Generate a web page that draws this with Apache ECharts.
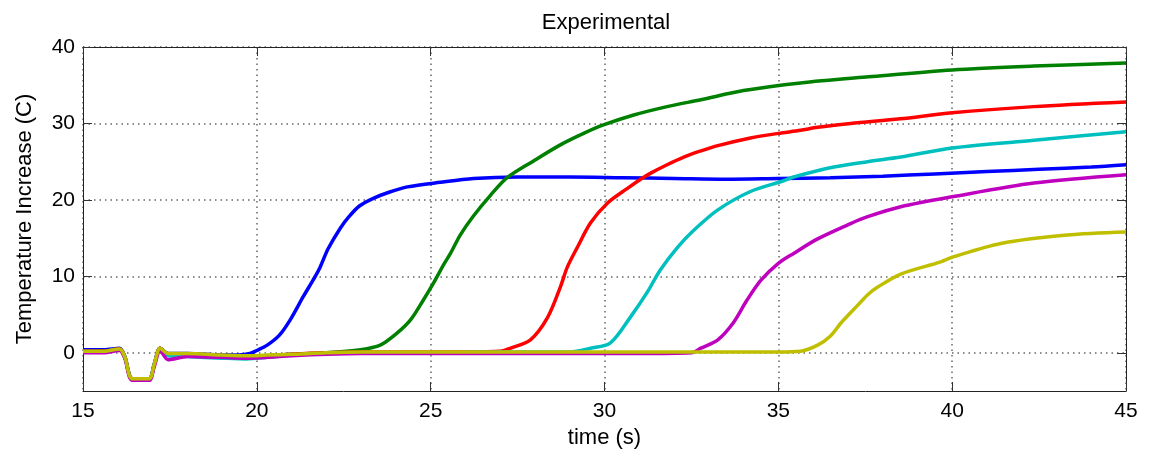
<!DOCTYPE html>
<html>
<head>
<meta charset="utf-8">
<script src="https://cdn.jsdelivr.net/npm/echarts@6/dist/echarts.min.js"></script>
<style>html,body{margin:0;padding:0;background:#fff}#c{width:1154px;height:456px}</style>
</head>
<body>
<div id="c"></div>
<script>
const xTicks = [15, 20, 25, 30, 35, 40, 45];
const yTicks = [0, 10, 20, 30, 40];

const blueT = [15, 15.6, 16.05, 16.2, 16.42, 16.9, 17.05, 17.22, 17.45, 18, 19, 19.5, 19.8, 20.0, 20.3, 20.65, 20.96, 21.33, 21.68, 21.82, 22.05, 22.4, 22.65, 22.95, 23.35, 23.8, 24.33, 25.28, 26.23, 27.5, 29, 30.5, 32, 33.5, 35, 36.5, 38, 39.5, 41, 42.5, 44, 45];
const blueV = [0.4, 0.4, 0.6, -0.5, -3.4, -3.4, -1.5, 0.6, -0.1, -0.1, -0.3, -0.3, -0.1, 0.3, 1.0, 2.3, 4.3, 7.3, 10.0, 11.2, 13.6, 16.3, 17.8, 19.2, 20.2, 21.0, 21.7, 22.3, 22.8, 23.0, 23.0, 22.9, 22.8, 22.7, 22.8, 22.9, 23.1, 23.4, 23.7, 24.0, 24.3, 24.6];

const greenT = [15, 15.6, 16.05, 16.2, 16.42, 16.9, 17.05, 17.22, 17.45, 18, 19, 19.7, 20.3, 21, 22, 22.98, 23.55, 24.04, 24.42, 24.79, 25.08, 25.37, 25.57, 25.85, 26.23, 26.72, 27.2, 27.96, 28.73, 29.4, 29.97, 30.84, 31.8, 32.77, 34, 35.64, 37.6, 40, 42.35, 45];
const greenV = [0.2, 0.2, 0.5, -0.5, -3.4, -3.4, -1.5, 0.6, -0.2, -0.2, -0.4, -0.5, -0.4, -0.2, 0.0, 0.4, 1.0, 2.6, 4.3, 6.9, 9.1, 11.5, 13.0, 15.4, 17.9, 20.6, 22.9, 25.1, 27.2, 28.7, 29.8, 31.1, 32.2, 33.1, 34.3, 35.3, 36.1, 37.0, 37.5, 37.9];

const redT = [15, 15.6, 16.05, 16.2, 16.42, 16.9, 17.05, 17.22, 17.45, 18, 19, 19.7, 20.3, 21, 22, 23, 24, 25, 26, 27, 27.3, 27.87, 28.36, 28.73, 28.93, 29.22, 29.6, 30.09, 30.66, 31.04, 31.33, 31.8, 32.28, 32.77, 33.26, 34.2, 35.0, 35.64, 36.13, 37.08, 38.5, 40, 42.35, 45];
const redV = [0.2, 0.2, 0.5, -0.5, -3.4, -3.4, -1.5, 0.6, -0.2, -0.2, -0.4, -0.5, -0.4, -0.2, 0.0, 0.1, 0.1, 0.1, 0.1, 0.2, 0.6, 1.7, 4.6, 8.6, 11.2, 13.8, 17.0, 19.6, 21.5, 22.7, 23.5, 24.6, 25.6, 26.4, 27.1, 28.1, 28.7, 29.1, 29.5, 30.0, 30.6, 31.4, 32.2, 32.8];

const cyanT = [15, 15.6, 16.05, 16.2, 16.42, 16.9, 17.05, 17.22, 17.45, 18, 19, 19.7, 20.3, 21, 22, 23, 25, 27, 29, 29.6, 30.17, 30.75, 31.24, 31.6, 32.1, 32.56, 33.26, 34.2, 35.15, 35.44, 36.6, 37.57, 38.52, 40, 42.35, 45];
const cyanV = [0.1, 0.1, 0.4, -0.5, -3.4, -3.4, -1.5, 0.5, -0.4, -0.5, -0.7, -0.8, -0.6, -0.3, -0.1, 0.0, 0.0, 0.1, 0.1, 0.6, 1.3, 4.7, 8.0, 10.8, 13.8, 16.0, 18.7, 21.1, 22.5, 23.0, 24.3, 25.0, 25.6, 26.8, 27.8, 28.9];

const magentaT = [15, 15.6, 16.05, 16.2, 16.42, 16.9, 17.05, 17.22, 17.45, 18, 19, 19.7, 20.3, 21, 22, 23, 25, 27, 29, 31, 32.5, 32.77, 33.26, 33.7, 34.1, 34.5, 35.0, 35.44, 36.13, 37.08, 37.57, 38.52, 40, 42.35, 45];
const magentaV = [0.0, 0.0, 0.3, -0.7, -3.6, -3.6, -1.8, 0.3, -0.9, -0.5, -0.6, -0.7, -0.6, -0.4, -0.2, -0.1, -0.1, -0.1, -0.1, -0.1, 0.0, 0.6, 1.7, 3.9, 6.9, 9.5, 11.7, 13.0, 14.9, 16.9, 17.8, 19.1, 20.4, 22.2, 23.3];

const yellowT = [15, 15.6, 16.05, 16.2, 16.42, 16.9, 17.05, 17.22, 17.45, 18, 19, 19.7, 20.3, 21, 22, 23, 25, 27, 29, 31, 33, 35, 35.64, 36.13, 36.5, 36.8, 37.3, 37.57, 37.86, 38.52, 39.67, 40, 41.4, 43.3, 45];
const yellowV = [0.2, 0.2, 0.5, -0.5, -3.4, -3.4, -1.5, 0.6, -0.1, -0.1, -0.3, -0.4, -0.3, -0.2, 0.0, 0.1, 0.1, 0.1, 0.1, 0.1, 0.1, 0.1, 0.2, 1.0, 2.2, 3.9, 6.3, 7.6, 8.6, 10.3, 11.9, 12.5, 14.3, 15.4, 15.8];

const seriesDefs = [
  {name: 'blue', t: blueT, v: blueV, color: '#0000ff'},
  {name: 'green', t: greenT, v: greenV, color: '#008000'},
  {name: 'red', t: redT, v: redV, color: '#ff0000'},
  {name: 'cyan', t: cyanT, v: cyanV, color: '#00bfbf'},
  {name: 'magenta', t: magentaT, v: magentaV, color: '#bf00bf'},
  {name: 'yellow', t: yellowT, v: yellowV, color: '#bfbf00'}
];

const FONT = 'Liberation Sans';
const chart = echarts.init(document.getElementById('c'), null, {renderer: 'canvas'});

const tickStyle = {show: true, inside: true, length: 9, lineStyle: {color: '#333', width: 1}};
const axisLineStyle = {show: true, onZero: false, lineStyle: {color: '#222', width: 1}};
const dotted = {show: true, lineStyle: {color: '#666', width: 1.5, type: [1.5, 4]}};

chart.setOption({
  animation: false,
  backgroundColor: '#fff',
  title: {
    text: 'Experimental',
    left: 601,
    textAlign: 'center',
    top: 7,
    textStyle: {fontFamily: FONT, fontSize: 22, fontWeight: 'normal', color: '#000'}
  },
  grid: {left: 83, right: 28, top: 47, bottom: 65, containLabel: false},
  xAxis: [{
    type: 'value', min: 15, max: 45, interval: 5,
    name: 'time (s)', nameLocation: 'middle', nameGap: 36,
    nameTextStyle: {fontFamily: FONT, fontSize: 22, color: '#000'},
    axisLine: axisLineStyle,
    axisTick: tickStyle,
    axisLabel: {fontFamily: FONT, fontSize: 21, color: '#000', margin: 10},
    splitLine: dotted
  }, {
    type: 'value', min: 15, max: 45, interval: 5, position: 'top',
    axisLine: axisLineStyle, axisTick: tickStyle,
    axisLabel: {show: false}, splitLine: {show: false}
  }],
  yAxis: [{
    type: 'value', min: -5, max: 40, interval: 5,
    name: 'Temperature Increase (C)', nameLocation: 'middle', nameGap: 47,
    nameTextStyle: {fontFamily: FONT, fontSize: 22, color: '#000'},
    axisLine: axisLineStyle,
    axisTick: Object.assign({customValues: yTicks}, tickStyle),
    axisLabel: {fontFamily: FONT, fontSize: 21, color: '#000', margin: 8, customValues: yTicks},
    splitLine: dotted
  }, {
    type: 'value', min: -5, max: 40, interval: 5, position: 'right',
    axisLine: axisLineStyle,
    axisTick: Object.assign({customValues: yTicks}, tickStyle),
    axisLabel: {show: false}, splitLine: {show: false}
  }],
  series: seriesDefs.map(s => ({
    name: s.name,
    type: 'line',
    xAxisIndex: 0, yAxisIndex: 0,
    showSymbol: false,
    symbol: 'none',
    smooth: 0.3,
    data: s.t.map((t, i) => [t, s.v[i]]),
    lineStyle: {color: s.color, width: 3.5},
    itemStyle: {color: s.color}
  }))
});
</script>
</body>
</html>
